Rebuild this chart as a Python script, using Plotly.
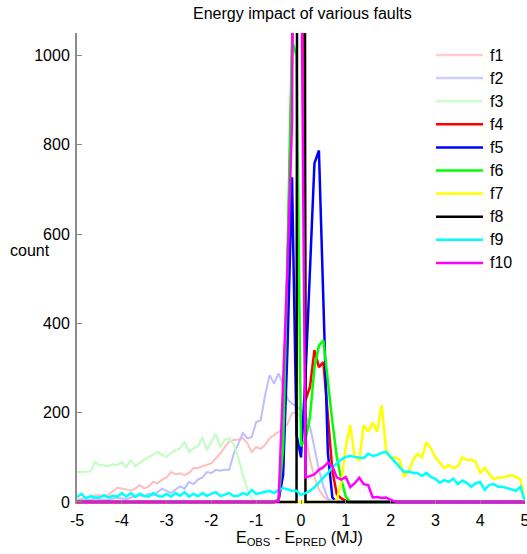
import plotly.graph_objects as go

# Histogram bin centres (MJ) and the per-fault counts
bin_centers = [round(-5 + 0.1 * i, 1) for i in range(101)]
N_BINS = len(bin_centers)

x_tick_values = [-5, -4, -3, -2, -1, 0, 1, 2, 3, 4, 5]
x_tick_labels = ["-5", "-4", "-3", "-2", "-1", "0", "1", "2", "3", "4", "5"]
y_tick_values = [0, 200, 400, 600, 800, 1000]


def placed(values, start_x):
    """Place a run of counts starting at bin start_x; bins outside the run are empty."""
    start = int(round((start_x + 5) * 10))
    out = [0] * start + list(values)
    out += [0] * (N_BINS - len(out))
    assert len(out) == N_BINS
    return out


f1 = placed([5, 8, 10, 12, 15, 15, 14, 16, 25, 32,
             30, 28, 26, 30, 38, 30, 35, 45, 42, 50,
             55, 67, 62, 64, 60, 65, 76, 76, 80, 83,
             87, 98, 109, 123, 135, 139, 140, 143, 132, 112,
             123, 119, 128, 143, 150, 157, 161, 175, 199, 200,
             188, 150, 95, 55, 28, 12, 5, 2], -5.0)
f2 = placed([3, 5, 3, 5, 8, 6, 5, 4, 8, 10,
             8, 6, 10, 12, 15, 12, 18, 15, 22, 30,
             25, 20, 28, 35, 30, 45, 40, 50, 55, 67,
             65, 72, 70, 72, 72, 109, 130, 154, 143, 145,
             179, 183, 240, 284, 265, 288, 262, 230, 220, 215,
             205, 195, 170, 120, 72, 35, 8], -5.0)
f3 = placed([67, 67, 67, 68, 90, 82, 82, 80, 85, 82,
             90, 78, 94, 80, 88, 94, 100, 105, 112, 105,
             101, 110, 116, 120, 134, 112, 120, 125, 145, 116,
             135, 152, 123, 140, 143, 128, 100, 60, 30, 8], -5.0)
f4 = placed([5, 80, 500, 1000, 1500, 3500, 228, 257, 340, 302,
             313, 193, 70, 17, 8, 3], -0.5)
f5 = placed([5, 60, 350, 727, 150, 100, 280, 520, 758, 787,
             430, 110, 10], -0.5)
f6 = placed([5, 120, 560, 1033, 1000, 125, 140, 190, 300, 350,
             362, 265, 180, 100, 50, 12], -0.5)
f7 = placed([5, 45, 125, 172, 101, 94, 172, 157, 178, 157,
             217, 116, 98, 100, 95, 58, 67, 94, 108, 100,
             134, 120, 100, 89, 76, 83, 76, 80, 100, 94,
             95, 90, 65, 76, 62, 51, 55, 55, 57, 60,
             56, 50, 0], 0.8)
f8 = placed([10000], 0.0)
f9 = placed([11, 18, 8, 13, 10, 10, 15, 10, 14, 12,
             20, 12, 20, 12, 18, 14, 12, 20, 14, 12,
             18, 12, 20, 14, 22, 12, 18, 13, 20, 14,
             18, 22, 13, 16, 20, 13, 14, 20, 16, 27,
             18, 20, 22, 25, 20, 27, 31, 28, 25, 25,
             16, 20, 25, 33, 43, 55, 65, 78, 87, 95,
             101, 103, 101, 100, 98, 108, 103, 105, 110, 112,
             100, 88, 78, 67, 68, 65, 65, 58, 65, 56,
             52, 43, 49, 45, 52, 40, 48, 43, 34, 42,
             45, 27, 38, 40, 34, 34, 31, 27, 25, 34, 0], -5.0)
f10 = placed([2, 250, 530, 850, 3000, 1330, 55, 58, 62, 72,
              78, 88, 80, 55, 50, 56, 33, 42, 54, 40,
              38, 10, 11, 9, 10, 5, 1], -0.5)

series_names = ["f1", "f2", "f3", "f4", "f5", "f6", "f7", "f8", "f9", "f10"]
series_counts = [f1, f2, f3, f4, f5, f6, f7, f8, f9, f10]
series_colors = ["rgb(255,190,190)", "rgb(190,190,255)", "rgb(190,255,190)",
                 "#ff0000", "#0000ff", "#00ff00", "#ffff00", "#000000",
                 "#00ffff", "#ff00ff"]
legend_colors = ["rgb(255,205,205)", "rgb(205,205,255)", "rgb(205,255,205)",
                 "#ff0000", "#0000ff", "#00ff00", "#ffff00", "#000000",
                 "#00ffff", "#ff00ff"]
series_widths = [2, 2, 2, 2.5, 2.5, 2.5, 2.5, 2.5, 2.5, 2.5]

# Figure geometry
W, H = 527, 554
M_L, M_R, M_T, M_B = 77, 2, 33, 50
PLOT_W = W - M_L - M_R
PLOT_H = H - M_T - M_B
FONT = "Liberation Sans, Arial, Helvetica, sans-serif"


def px_x(px):
    return (px - M_L) / PLOT_W


def px_y(py):
    return (H - M_B - py) / PLOT_H


fig = go.Figure()
for name, counts, color, width in zip(series_names, series_counts,
                                      series_colors, series_widths):
    fig.add_trace(go.Scatter(
        x=bin_centers, y=counts, mode="lines", name=name,
        line=dict(color=color, width=width), showlegend=False,
        hoverinfo="skip",
    ))

# Legend drawn as short line samples with labels on the upper right
shapes = []
annotations = []
for i, (name, color) in enumerate(zip(series_names, legend_colors)):
    row_y = px_y(55 + 23.1 * i)
    shapes.append(dict(type="line", xref="paper", yref="paper",
                       x0=px_x(436), x1=px_x(483), y0=row_y, y1=row_y,
                       line=dict(color=color, width=2.5)))
    annotations.append(dict(xref="paper", yref="paper", x=px_x(488), y=row_y,
                            text=name, showarrow=False, xanchor="left",
                            yanchor="middle",
                            font=dict(family=FONT, size=16, color="black")))

annotations.append(dict(xref="paper", yref="paper", x=px_x(302), y=px_y(13),
                        text="Energy impact of various faults", showarrow=False,
                        xanchor="center", yanchor="middle",
                        font=dict(family=FONT, size=16, color="black")))
annotations.append(dict(xref="paper", yref="paper", x=px_x(30), y=px_y(250),
                        text="count", showarrow=False, xanchor="center",
                        yanchor="middle",
                        font=dict(family=FONT, size=16, color="black")))
annotations.append(dict(xref="paper", yref="paper", x=px_x(299), y=px_y(538),
                        text="E<sub>OBS</sub> - E<sub>PRED</sub> (MJ)",
                        showarrow=False, xanchor="center", yanchor="middle",
                        font=dict(family=FONT, size=16, color="black")))

fig.update_layout(
    width=W, height=H,
    margin=dict(l=M_L, r=M_R, t=M_T, b=M_B, pad=0, autoexpand=False),
    paper_bgcolor="white", plot_bgcolor="white",
    font=dict(family=FONT, size=16, color="black"),
    shapes=shapes, annotations=annotations,
    xaxis=dict(range=[-5, 5], tickmode="array", tickvals=x_tick_values,
               ticktext=x_tick_labels, automargin=False,
               ticks="inside", ticklen=4, tickcolor="#888888", tickwidth=1,
               showgrid=False, zeroline=False, showline=False,
               tickfont=dict(family=FONT, size=16, color="black"),
               ticklabelstandoff=5, ticklabeloverflow="allow"),
    yaxis=dict(range=[-4.5, 1050], tickmode="array",
               tickvals=y_tick_values, automargin=False,
               ticks="inside", ticklen=5, tickcolor="#888888", tickwidth=1,
               showgrid=False, zeroline=False, showline=True,
               linecolor="#8c8c8c", linewidth=2,
               tickfont=dict(family=FONT, size=16, color="black"),
               ticklabelstandoff=2),
)

fig.write_html("out.html")
